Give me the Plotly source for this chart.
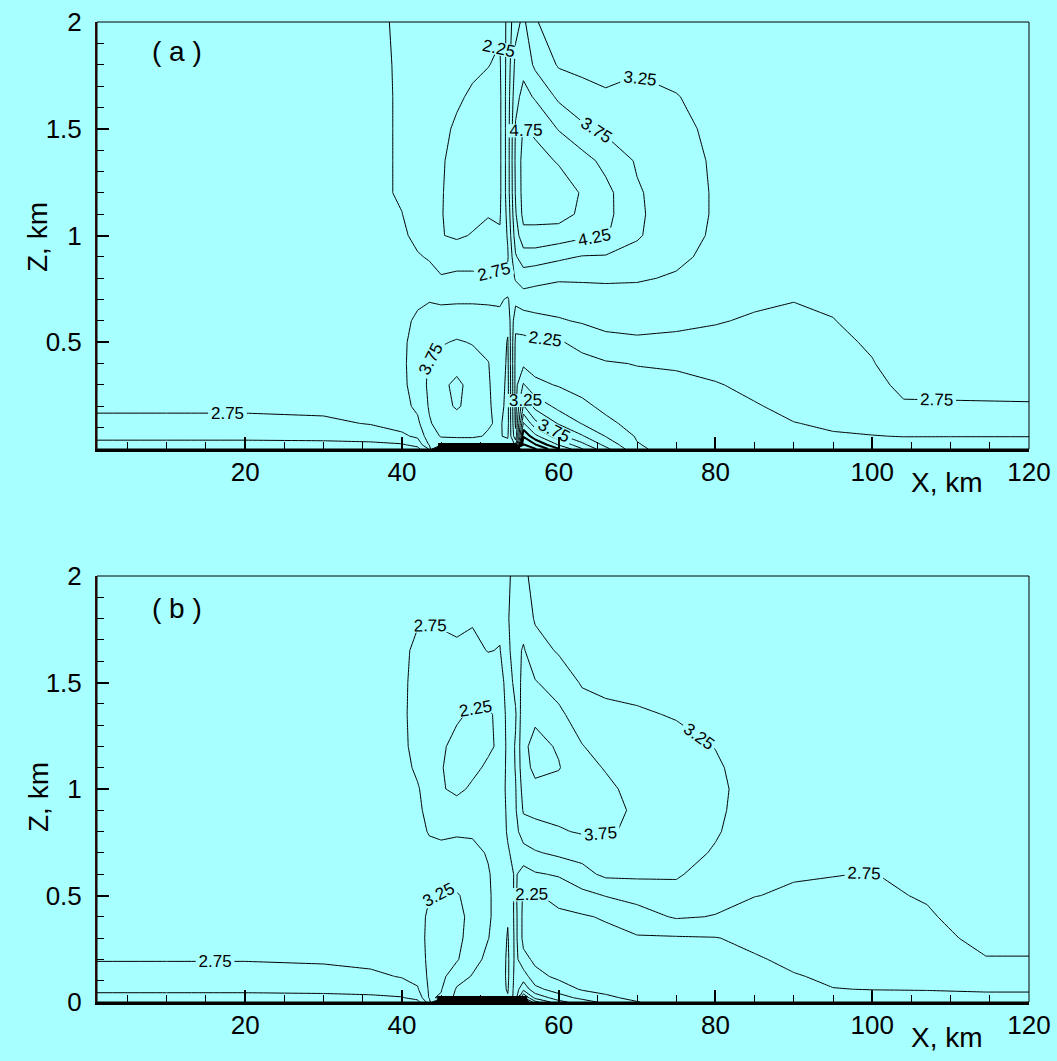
import plotly.graph_objects as go

# ---------------- data ----------------
height_km = [0, 0.02, 0.06, 0.12, 0.2, 0.3, 0.4, 0.5, 0.6, 0.7, 0.8, 0.9,
             1.0, 1.1, 1.2, 1.35, 1.5, 1.65, 1.8, 2.0]

x_km_a = [1, 10, 20, 30, 36, 40, 42, 43.5, 45, 47, 49, 51, 52.5, 53.5, 54.5,
          55.5, 57, 60, 63, 66, 70, 75, 80, 85, 90, 95, 100, 104, 110, 120]

x_km_b = [1, 10, 20, 30, 36, 40, 42, 43.5, 45, 47, 49, 51, 52.5, 53.5, 54.5,
          55.5, 57, 60, 63, 66, 70, 75, 80, 85, 90, 95, 100, 107, 114.5, 120]

# extent of the heated island strip at the ground (km)
island_a_km = [44.6, 54.7]
island_b_km = [44.5, 56.0]

# field of panel (a): one list per x position, values from the ground to 2 km
field_a_columns = [
    [1.90, 2.10, 2.38, 2.60, 2.85, 2.95, 2.98, 3.00, 3.00, 3.00, 3.00, 3.00, 3.00, 3.00, 3.00, 3.00, 3.00, 3.00, 3.00, 3.00],
    [1.90, 2.10, 2.38, 2.60, 2.85, 2.95, 2.98, 3.00, 3.00, 3.00, 3.00, 3.00, 3.00, 3.00, 3.00, 3.00, 3.00, 3.00, 3.00, 3.00],
    [1.90, 2.10, 2.38, 2.60, 2.85, 2.95, 2.98, 3.00, 3.00, 3.00, 3.00, 3.00, 3.00, 3.00, 3.00, 3.00, 3.00, 3.00, 3.00, 3.00],
    [1.92, 2.12, 2.40, 2.65, 2.88, 2.97, 3.00, 3.00, 3.00, 3.00, 3.00, 3.00, 3.00, 3.00, 3.00, 3.00, 3.00, 3.00, 3.00, 3.00],
    [1.95, 2.15, 2.45, 2.78, 2.92, 3.00, 3.00, 3.00, 3.00, 3.00, 3.00, 2.98, 2.95, 2.93, 2.92, 2.92, 2.92, 2.92, 2.92, 2.90],
    [2.00, 2.20, 2.65, 2.95, 3.10, 3.15, 3.15, 3.15, 3.10, 3.05, 3.00, 2.95, 2.85, 2.76, 2.68, 2.68, 2.68, 2.68, 2.67, 2.65],
    [2.10, 2.40, 2.85, 3.15, 3.35, 3.45, 3.50, 3.45, 3.35, 3.15, 3.00, 2.80, 2.60, 2.50, 2.45, 2.45, 2.45, 2.50, 2.55, 2.55],
    [2.80, 3.30, 3.55, 3.70, 3.80, 3.85, 3.80, 3.60, 3.45, 3.22, 2.95, 2.70, 2.45, 2.35, 2.30, 2.32, 2.38, 2.42, 2.45, 2.45],
    [7.00, 3.50, 3.78, 3.95, 4.10, 4.15, 3.95, 3.70, 3.40, 3.20, 2.80, 2.50, 2.27, 2.27, 2.28, 2.30, 2.33, 2.38, 2.42, 2.45],
    [7.00, 3.50, 3.80, 4.05, 4.30, 4.35, 4.10, 3.80, 3.45, 3.20, 2.85, 2.55, 2.18, 2.10, 2.08, 2.10, 2.20, 2.30, 2.40, 2.45],
    [7.00, 3.50, 3.80, 3.95, 4.10, 4.10, 3.95, 3.72, 3.45, 3.20, 2.85, 2.55, 2.28, 2.12, 2.07, 2.07, 2.12, 2.20, 2.32, 2.42],
    [7.00, 3.50, 3.72, 3.78, 3.80, 3.80, 3.77, 3.60, 3.40, 3.20, 2.82, 2.55, 2.35, 2.23, 2.15, 2.12, 2.12, 2.15, 2.26, 2.35],
    [7.00, 3.60, 3.73, 3.70, 3.60, 3.50, 3.45, 3.40, 3.35, 3.20, 2.80, 2.50, 2.30, 2.20, 2.15, 2.15, 2.15, 2.15, 2.20, 2.30],
    [7.00, 3.60, 3.80, 3.90, 3.90, 3.90, 3.85, 3.80, 3.60, 3.30, 2.90, 2.70, 2.80, 2.90, 3.00, 3.00, 3.00, 3.00, 2.95, 2.90],
    [7.00, 3.20, 2.40, 2.15, 2.10, 2.10, 2.10, 2.15, 2.40, 2.90, 3.30, 3.70, 4.00, 4.20, 4.30, 4.35, 4.30, 4.10, 3.90, 3.60],
    [6.60, 6.30, 5.70, 4.80, 3.80, 2.80, 2.15, 2.12, 2.50, 3.00, 3.50, 4.00, 4.60, 4.90, 4.95, 4.95, 4.80, 4.40, 4.10, 3.85],
    [6.30, 5.80, 4.90, 3.90, 3.10, 2.35, 2.08, 2.18, 2.60, 3.00, 3.40, 4.00, 4.60, 4.90, 5.10, 4.95, 4.65, 4.20, 3.65, 3.28],
    [5.30, 4.70, 3.90, 3.20, 2.60, 2.22, 2.05, 2.20, 2.70, 3.00, 3.30, 3.85, 4.50, 4.95, 5.05, 4.70, 4.22, 3.65, 3.20, 3.05],
    [4.28, 3.90, 3.30, 2.72, 2.35, 2.10, 2.10, 2.40, 2.80, 3.05, 3.30, 3.72, 4.35, 4.65, 4.70, 4.45, 3.85, 3.40, 3.15, 3.05],
    [3.40, 3.10, 2.73, 2.35, 2.15, 2.08, 2.20, 2.60, 2.90, 3.10, 3.30, 3.70, 4.30, 4.40, 4.40, 4.10, 3.65, 3.30, 3.12, 3.03],
    [2.35, 2.28, 2.20, 2.10, 2.08, 2.10, 2.27, 2.70, 2.85, 3.05, 3.30, 3.60, 3.80, 3.82, 3.80, 3.70, 3.55, 3.35, 3.20, 3.05],
    [2.00, 2.02, 2.05, 2.08, 2.10, 2.15, 2.30, 2.65, 2.85, 3.00, 3.20, 3.35, 3.45, 3.50, 3.50, 3.50, 3.40, 3.27, 3.10, 3.02],
    [2.00, 2.03, 2.07, 2.10, 2.15, 2.22, 2.40, 2.62, 2.78, 2.95, 3.05, 3.12, 3.18, 3.20, 3.20, 3.17, 3.12, 3.08, 3.05, 3.02],
    [2.00, 2.05, 2.10, 2.15, 2.22, 2.35, 2.48, 2.58, 2.70, 2.82, 2.92, 2.97, 3.00, 3.00, 3.00, 3.00, 3.00, 3.00, 3.00, 3.00],
    [2.00, 2.08, 2.16, 2.24, 2.35, 2.45, 2.55, 2.62, 2.68, 2.76, 2.85, 2.93, 2.97, 3.00, 3.00, 3.00, 3.00, 3.00, 3.00, 3.00],
    [2.00, 2.10, 2.22, 2.30, 2.40, 2.50, 2.58, 2.66, 2.74, 2.80, 2.88, 2.95, 3.00, 3.00, 3.00, 3.00, 3.00, 3.00, 3.00, 3.00],
    [2.00, 2.12, 2.24, 2.35, 2.50, 2.62, 2.73, 2.80, 2.86, 2.92, 2.96, 3.00, 3.00, 3.00, 3.00, 3.00, 3.00, 3.00, 3.00, 3.00],
    [2.00, 2.12, 2.26, 2.45, 2.70, 2.85, 2.93, 2.97, 3.00, 3.00, 3.00, 3.00, 3.00, 3.00, 3.00, 3.00, 3.00, 3.00, 3.00, 3.00],
    [1.95, 2.10, 2.26, 2.50, 2.71, 2.85, 2.93, 2.97, 3.00, 3.00, 3.00, 3.00, 3.00, 3.00, 3.00, 3.00, 3.00, 3.00, 3.00, 3.00],
    [1.95, 2.10, 2.26, 2.50, 2.72, 2.86, 2.93, 2.97, 3.00, 3.00, 3.00, 3.00, 3.00, 3.00, 3.00, 3.00, 3.00, 3.00, 3.00, 3.00],
]

# field of panel (b)
field_b_columns = [
    [1.95, 2.15, 2.32, 2.52, 2.78, 2.92, 2.97, 3.00, 3.00, 3.00, 3.00, 3.00, 3.00, 3.00, 3.00, 3.00, 3.00, 3.00, 3.00, 3.00],
    [1.95, 2.15, 2.32, 2.52, 2.78, 2.92, 2.97, 3.00, 3.00, 3.00, 3.00, 3.00, 3.00, 3.00, 3.00, 3.00, 3.00, 3.00, 3.00, 3.00],
    [1.95, 2.15, 2.32, 2.52, 2.78, 2.92, 2.97, 3.00, 3.00, 3.00, 3.00, 3.00, 3.00, 3.00, 3.00, 3.00, 3.00, 3.00, 3.00, 3.00],
    [1.96, 2.16, 2.34, 2.56, 2.82, 2.95, 3.00, 3.00, 3.00, 3.00, 3.00, 3.00, 3.00, 3.00, 3.00, 3.00, 3.00, 3.00, 3.00, 3.00],
    [1.97, 2.18, 2.38, 2.65, 2.88, 2.96, 3.00, 3.00, 3.00, 3.00, 3.00, 3.00, 3.00, 3.00, 3.00, 3.00, 3.00, 3.00, 3.00, 3.00],
    [2.00, 2.22, 2.50, 2.78, 2.93, 3.00, 3.00, 3.00, 3.00, 3.00, 3.00, 2.98, 2.95, 2.93, 2.85, 2.85, 2.87, 2.90, 2.95, 2.97],
    [2.10, 2.40, 2.70, 2.90, 3.00, 3.05, 3.05, 3.05, 3.00, 3.00, 2.95, 2.85, 2.80, 2.65, 2.60, 2.55, 2.55, 2.60, 2.82, 2.90],
    [3.00, 3.30, 3.32, 3.35, 3.37, 3.38, 3.35, 3.23, 3.05, 2.95, 2.70, 2.60, 2.50, 2.45, 2.42, 2.42, 2.45, 2.55, 2.78, 2.85],
    [6.00, 3.20, 3.28, 3.38, 3.45, 3.45, 3.40, 3.30, 3.05, 2.90, 2.65, 2.40, 2.28, 2.27, 2.30, 2.38, 2.50, 2.65, 2.80, 2.88],
    [6.00, 2.60, 2.70, 2.95, 3.30, 3.38, 3.40, 3.30, 3.00, 2.90, 2.70, 2.40, 2.18, 2.12, 2.15, 2.30, 2.48, 2.70, 2.82, 2.90],
    [6.00, 2.50, 2.60, 2.72, 2.90, 3.05, 3.10, 3.05, 2.92, 2.85, 2.70, 2.45, 2.30, 2.18, 2.12, 2.20, 2.38, 2.62, 2.80, 2.90],
    [6.00, 2.45, 2.50, 2.55, 2.65, 2.76, 2.80, 2.80, 2.78, 2.72, 2.60, 2.50, 2.40, 2.30, 2.20, 2.22, 2.40, 2.77, 2.85, 2.92],
    [6.00, 2.40, 2.45, 2.50, 2.55, 2.60, 2.60, 2.60, 2.60, 2.55, 2.50, 2.45, 2.45, 2.38, 2.30, 2.30, 2.50, 2.73, 2.85, 2.92],
    [6.00, 2.30, 2.20, 2.15, 2.15, 2.20, 2.30, 2.45, 2.60, 2.70, 2.80, 2.85, 2.90, 2.90, 2.90, 2.95, 3.00, 3.10, 3.20, 3.15],
    [6.00, 3.00, 3.00, 2.95, 2.90, 2.90, 2.90, 2.85, 2.80, 2.90, 3.10, 3.20, 3.22, 3.28, 3.30, 3.20, 3.40, 3.60, 3.55, 3.45],
    [6.00, 4.80, 3.60, 3.00, 2.40, 2.10, 2.10, 2.15, 2.55, 3.05, 3.50, 3.80, 3.95, 4.10, 4.15, 4.10, 3.95, 3.80, 3.55, 3.35],
    [4.40, 3.60, 2.90, 2.40, 2.15, 2.08, 2.10, 2.20, 2.70, 3.20, 3.60, 3.85, 4.15, 4.35, 4.40, 4.15, 3.78, 3.45, 3.20, 3.10],
    [3.40, 3.00, 2.50, 2.15, 2.05, 2.05, 2.15, 2.40, 2.80, 3.35, 3.70, 3.90, 4.05, 4.28, 4.20, 3.85, 3.55, 3.20, 3.08, 3.03],
    [3.00, 2.60, 2.20, 2.05, 2.00, 2.05, 2.20, 2.60, 3.10, 3.40, 3.80, 3.95, 3.95, 3.90, 3.77, 3.50, 3.20, 3.08, 3.03, 3.00],
    [2.60, 2.35, 2.10, 2.02, 2.00, 2.10, 2.30, 2.77, 3.35, 3.55, 3.78, 3.85, 3.85, 3.72, 3.55, 3.35, 3.15, 3.05, 3.02, 3.00],
    [2.27, 2.12, 2.05, 2.00, 2.02, 2.20, 2.55, 2.90, 3.35, 3.55, 3.70, 3.70, 3.60, 3.50, 3.40, 3.30, 3.12, 3.05, 3.02, 3.00],
    [2.00, 2.02, 2.03, 2.05, 2.08, 2.20, 2.80, 3.10, 3.30, 3.45, 3.50, 3.50, 3.48, 3.45, 3.38, 3.22, 3.10, 3.05, 3.02, 3.00],
    [2.00, 2.02, 2.04, 2.07, 2.12, 2.23, 2.73, 2.90, 3.05, 3.20, 3.30, 3.33, 3.33, 3.30, 3.24, 3.12, 3.05, 3.02, 3.00, 3.00],
    [2.00, 2.03, 2.06, 2.12, 2.20, 2.38, 2.60, 2.76, 2.85, 2.92, 2.97, 3.05, 3.10, 3.08, 3.05, 3.00, 3.00, 3.00, 3.00, 3.00],
    [2.00, 2.05, 2.12, 2.22, 2.35, 2.48, 2.60, 2.70, 2.78, 2.85, 2.92, 2.96, 3.00, 3.00, 3.00, 3.00, 3.00, 3.00, 3.00, 3.00],
    [2.00, 2.10, 2.24, 2.32, 2.42, 2.52, 2.60, 2.68, 2.76, 2.83, 2.90, 2.95, 3.00, 3.00, 3.00, 3.00, 3.00, 3.00, 3.00, 3.00],
    [2.00, 2.12, 2.26, 2.34, 2.44, 2.54, 2.62, 2.69, 2.74, 2.82, 2.90, 2.95, 3.00, 3.00, 3.00, 3.00, 3.00, 3.00, 3.00, 3.00],
    [2.00, 2.13, 2.27, 2.40, 2.52, 2.62, 2.71, 2.78, 2.85, 2.90, 2.95, 3.00, 3.00, 3.00, 3.00, 3.00, 3.00, 3.00, 3.00, 3.00],
    [2.00, 2.15, 2.30, 2.50, 2.73, 2.86, 2.93, 2.97, 3.00, 3.00, 3.00, 3.00, 3.00, 3.00, 3.00, 3.00, 3.00, 3.00, 3.00, 3.00],
    [2.00, 2.15, 2.30, 2.50, 2.73, 2.86, 2.93, 2.97, 3.00, 3.00, 3.00, 3.00, 3.00, 3.00, 3.00, 3.00, 3.00, 3.00, 3.00, 3.00],
]

labeled_levels = (2.25, 4.75, 0.5)     # start, end, step of the labelled isolines
surface_levels = (5.25, 6.75, 0.5)     # crowded isolines at the heated surface
x_tick_values = [20, 40, 60, 80, 100, 120]
z_ticks_a = [0.5, 1, 1.5, 2]
z_ticks_b = [0, 0.5, 1, 1.5, 2]
panel_names = ["( a )", "( b )"]

# ---------------- figure ----------------
BG = "#A8FFFF"
FONT = "Liberation Sans, Arial, sans-serif"
TICK_SIZE = 26
TITLE_SIZE = 28


def rows_of(columns):
    return [list(r) for r in zip(*columns)]


def panel_traces(xs, columns, island, xa, ya):
    zgrid = rows_of(columns)
    t_lab = go.Contour(
        x=xs, y=height_km, z=zgrid, xaxis=xa, yaxis=ya, showscale=False,
        hoverinfo="skip",
        contours=dict(start=labeled_levels[0], end=labeled_levels[1],
                      size=labeled_levels[2], coloring="none", showlabels=True,
                      labelfont=dict(size=17, color="black", family=FONT),
                      labelformat=".2f"),
        line=dict(color="black", width=1, smoothing=0),
    )
    t_surf = go.Contour(
        x=xs, y=height_km, z=zgrid, xaxis=xa, yaxis=ya, showscale=False,
        hoverinfo="skip",
        contours=dict(start=surface_levels[0], end=surface_levels[1],
                      size=surface_levels[2], coloring="none", showlabels=False),
        line=dict(color="black", width=2, smoothing=0),
    )
    t_island = go.Scatter(
        x=island, y=[height_km[0], height_km[0]], xaxis=xa, yaxis=ya,
        mode="lines", line=dict(color="black", width=12), hoverinfo="skip",
    )
    return [t_lab, t_surf, t_island]


fig = go.Figure()
for t in panel_traces(x_km_a, field_a_columns, island_a_km, "x", "y"):
    fig.add_trace(t)
for t in panel_traces(x_km_b, field_b_columns, island_b_km, "x2", "y2"):
    fig.add_trace(t)

xdom = [97 / 1057, 1029 / 1057]
ydom_a = [1 - 449 / 1061, 1 - 22 / 1061]
ydom_b = [1 - 1002 / 1061, 1 - 576 / 1061]


def xaxis_style(anchor):
    return dict(
        domain=xdom, range=[1.1, 120], anchor=anchor, automargin=False,
        tickmode="array", tickvals=x_tick_values,
        ticktext=[str(v) for v in x_tick_values],
        ticks="inside", ticklen=12, tickwidth=2, tickcolor="black",
        minor=dict(tickmode="linear", tick0=0, dtick=5, ticks="inside",
                   ticklen=7, tickwidth=1, tickcolor="black"),
        showline=True, linecolor="black", linewidth=3, mirror=False,
        showgrid=False, zeroline=False, ticklabelstandoff=-2,
        tickfont=dict(size=TICK_SIZE, family=FONT, color="black"),
    )


def yaxis_style(anchor, dom, ticks):
    return dict(
        domain=dom, range=[0, 2], anchor=anchor, automargin=False,
        tickmode="array", tickvals=ticks, ticktext=[("%g" % v) for v in ticks],
        ticks="inside", ticklen=12, tickwidth=2, tickcolor="black",
        minor=dict(tickmode="linear", tick0=0, dtick=0.1, ticks="inside",
                   ticklen=7, tickwidth=1, tickcolor="black"),
        showline=True, linecolor="#3a0a0a", linewidth=2, mirror=False,
        showgrid=False, zeroline=False, ticklabelstandoff=8,
        tickfont=dict(size=TICK_SIZE, family=FONT, color="black"),
    )


fig.update_layout(
    width=1057, height=1061, margin=dict(l=0, r=0, t=0, b=0, autoexpand=False),
    paper_bgcolor=BG, plot_bgcolor=BG, showlegend=False,
    font=dict(family=FONT, size=TICK_SIZE, color="black"),
    xaxis=xaxis_style("y"), yaxis=yaxis_style("x", ydom_a, z_ticks_a),
    xaxis2=xaxis_style("y2"), yaxis2=yaxis_style("x2", ydom_b, z_ticks_b),
)

shapes = []
for xr, yr in (("x domain", "y domain"), ("x2 domain", "y2 domain")):
    shapes.append(dict(type="rect", xref=xr, yref=yr, x0=0, x1=1, y0=0, y1=1,
                       line=dict(color="black", width=1), layer="above"))
fig.update_layout(shapes=shapes)

annotations = []
for name, yc_title, y_xlab, y_name in ((panel_names[0], 1 - 237 / 1061, 1 - 483 / 1061, 1 - 52 / 1061),
                                       (panel_names[1], 1 - 797 / 1061, 1 - 1037 / 1061, 1 - 608 / 1061)):
    annotations.append(dict(text="Z, km", xref="paper", yref="paper", x=38 / 1057, y=yc_title,
                            textangle=-90, showarrow=False, font=dict(size=TITLE_SIZE, family=FONT),
                            xanchor="center", yanchor="middle"))
    annotations.append(dict(text="X, km", xref="paper", yref="paper", x=947 / 1057, y=y_xlab,
                            showarrow=False, font=dict(size=TITLE_SIZE, family=FONT),
                            xanchor="center", yanchor="middle"))
    annotations.append(dict(text=name, xref="paper", yref="paper", x=177 / 1057, y=y_name,
                            showarrow=False, font=dict(size=TITLE_SIZE, family=FONT),
                            xanchor="center", yanchor="middle"))
fig.update_layout(annotations=annotations)

fig.write_html("out.html")
